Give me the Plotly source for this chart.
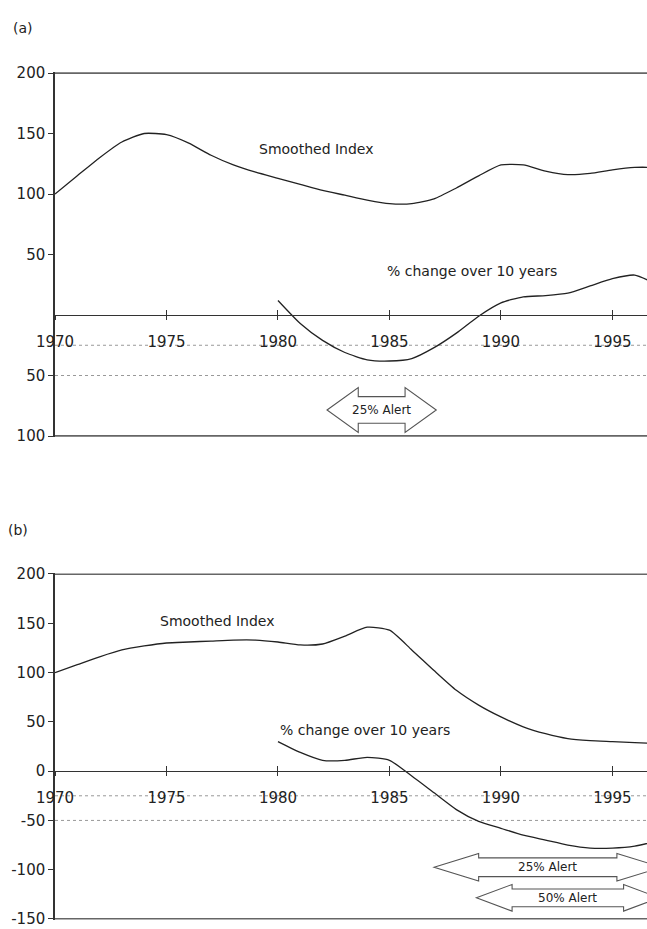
import plotly.graph_objects as go

# ---------------- data ----------------
years = list(range(1970, 1998))
pct_years = list(range(1980, 1998))

index_a = [100, 115, 130, 143, 150, 149, 142, 132, 124, 118,
           113, 108, 103, 99, 95, 92, 92, 96, 105, 115,
           124, 124, 119, 116, 117, 120, 122, 122]
pct_a = [12, -7, -21, -31, -37, -38, -36, -27, -15, -1,
         10, 15, 16, 18, 24, 30, 33, 25]

index_b = [100, 108, 116, 123, 127, 130, 131, 132, 133, 133,
           131, 128, 129, 137, 146, 143, 123, 102, 82, 67,
           55, 45, 38, 33, 31, 30, 29, 28]
pct_b = [30, 19, 11, 11, 14, 11, -5, -22, -39, -51,
         -58, -65, -70, -75, -78, -78, -76, -71]

x_ticks = [1970, 1975, 1980, 1985, 1990, 1995]
x_ticktext = ["1970", "1975", "1980", "1985", "1990", "1995"]

y_ticks_a = [200, 150, 100, 50, -50, -100]
y_ticktext_a = ["200", "150", "100", "50", "50", "100"]
y_ticks_b = [200, 150, 100, 50, 0, -50, -100, -150]
y_ticktext_b = ["200", "150", "100", "50", "0", "-50", "-100", "-150"]

threshold_levels = [-25, -50]

# alert periods (label, start year, end year)
alerts_a = [("25% Alert", 1982.2, 1987.1)]
alerts_b = [("25% Alert", 1987.0, 1997.2), ("50% Alert", 1988.9, 1997.1)]

# ---------------- style / geometry ----------------
W, H = 647, 929
LINE = "#222222"
AXC = "#333333"
FONT = "DejaVu Sans"
X_RANGE = [1970, 1996.55]
Y_RANGE_A = [-100, 200]
Y_RANGE_B = [-150, 200]
Y_PAD = 0.6  # small pad so end ticks are kept

def px_x(p):
    return p / W

def px_y(p):
    return 1 - p / H

x_dom = [px_x(55), 1.0]
y_dom_a = [px_y(436), px_y(73)]
y_dom_b = [px_y(919), px_y(574)]

def zero_pos(dom, rng):
    return dom[0] + (0 - rng[0]) / (rng[1] - rng[0]) * (dom[1] - dom[0])

# arrow geometry per alert: (y centre, half height tip, half height body, head length in years)
arrow_geom_a = [(-78.5, 18.5, 11, 1.4)]
arrow_geom_b = [(-97.5, 14, 9.5, 2.0), (-128.5, 13.5, 9, 1.6)]

fig = go.Figure()

def add_line(x, y, xa, ya):
    fig.add_trace(go.Scatter(x=x, y=y, mode="lines", xaxis=xa, yaxis=ya,
                             line=dict(color=LINE, width=1.3, shape="spline", smoothing=0.6),
                             showlegend=False, hoverinfo="skip"))

add_line(years, index_a, "x", "y")
add_line(pct_years, pct_a, "x", "y")
add_line(years, index_b, "x2", "y2")
add_line(pct_years, pct_b, "x2", "y2")

# dummy traces for overlay tick axes
fig.add_trace(go.Scatter(x=[None], y=[None], xaxis="x3", yaxis="y", showlegend=False, hoverinfo="skip"))
fig.add_trace(go.Scatter(x=[None], y=[None], xaxis="x4", yaxis="y2", showlegend=False, hoverinfo="skip"))

tickfont = dict(family=FONT, size=15, color="#222")

def xaxis_main(dom, pos):
    return dict(domain=dom, range=X_RANGE, anchor="free", position=pos,
                tickmode="array", tickvals=x_ticks, ticktext=x_ticktext,
                ticks="outside", ticklen=4, tickcolor=AXC, tickwidth=1.2,
                showline=True, linecolor=AXC, linewidth=1.3,
                showgrid=False, zeroline=False, tickfont=tickfont,
                ticklabelstandoff=9, automargin=False, fixedrange=True)

def xaxis_over(over, pos):
    return dict(domain=x_dom, range=X_RANGE, anchor="free", position=pos, overlaying=over,
                tickmode="array", tickvals=x_ticks, ticks="inside", ticklen=5,
                tickcolor=AXC, tickwidth=1.2, showticklabels=False, showline=False,
                showgrid=False, zeroline=False, automargin=False)

def yaxis(dom, rng, tv, tt, anchor):
    # pad range slightly, and stretch the domain by the same amount so scale is unchanged
    span = rng[1] - rng[0]
    dspan = dom[1] - dom[0]
    ext = Y_PAD / span * dspan
    return dict(domain=[dom[0] - ext, dom[1] + ext], range=[rng[0] - Y_PAD, rng[1] + Y_PAD],
                anchor=anchor, tickmode="array",
                tickvals=tv, ticktext=tt, ticks="outside", ticklen=5,
                tickcolor=AXC, tickwidth=1.2, showline=True, linecolor=AXC,
                linewidth=1.5, showgrid=False, zeroline=False, tickfont=tickfont,
                automargin=False, ticklabeloverflow="allow")

pos_a = zero_pos(y_dom_a, Y_RANGE_A)
pos_b = zero_pos(y_dom_b, Y_RANGE_B)

shapes = []
annotations = []

def frame_lines(yref, top, bottom):
    for v in (top, bottom):
        shapes.append(dict(type="line", xref="paper", x0=x_dom[0], x1=1, y0=v, y1=v, yref=yref,
                           line=dict(color=AXC, width=1.3)))
    for v in threshold_levels:
        shapes.append(dict(type="line", xref="paper", x0=x_dom[0], x1=1, y0=v, y1=v, yref=yref,
                           line=dict(color="#999", width=1, dash="dot"), layer="below"))

frame_lines("y", Y_RANGE_A[1], Y_RANGE_A[0])
frame_lines("y2", Y_RANGE_B[1], Y_RANGE_B[0])

def arrows(alerts, geoms, xref, yref):
    for (label, x0, x1), (yc, ht, hb, hl) in zip(alerts, geoms):
        path = (f"M {x0},{yc} L {x0+hl},{yc+ht} L {x0+hl},{yc+hb} L {x1-hl},{yc+hb} "
                f"L {x1-hl},{yc+ht} L {x1},{yc} L {x1-hl},{yc-ht} L {x1-hl},{yc-hb} "
                f"L {x0+hl},{yc-hb} L {x0+hl},{yc-ht} Z")
        shapes.append(dict(type="path", path=path, xref=xref, yref=yref,
                           fillcolor="white", line=dict(color="#555", width=1.1)))
        annotations.append(dict(text=label, x=(x0 + x1) / 2, y=yc, xref=xref, yref=yref,
                                showarrow=False, xanchor="center", yanchor="middle",
                                font=dict(family=FONT, size=12, color="#222")))

arrows(alerts_a, arrow_geom_a, "x", "y")
arrows(alerts_b, arrow_geom_b, "x2", "y2")

def label(text, x, y, xref, yref, size=14):
    annotations.append(dict(text=text, x=x, y=y, xref=xref, yref=yref, showarrow=False,
                            xanchor="left", yanchor="middle",
                            font=dict(family=FONT, size=size, color="#222")))

label("Smoothed Index", 1979.05, 137, "x", "y")
label("% change over 10 years", 1984.8, 36, "x", "y")
label("Smoothed Index", 1974.6, 152, "x2", "y2")
label("% change over 10 years", 1980.0, 42, "x2", "y2")

label("(a)", px_x(11), px_y(28), "paper", "paper", size=14)
label("(b)", px_x(6), px_y(530), "paper", "paper", size=14)

fig.update_layout(
    width=W, height=H, margin=dict(l=0, r=0, t=0, b=0),
    paper_bgcolor="white", plot_bgcolor="white", showlegend=False,
    xaxis=xaxis_main(x_dom, pos_a), yaxis=yaxis(y_dom_a, Y_RANGE_A, y_ticks_a, y_ticktext_a, "x"),
    xaxis2=xaxis_main(x_dom, pos_b), yaxis2=yaxis(y_dom_b, Y_RANGE_B, y_ticks_b, y_ticktext_b, "x2"),
    xaxis3=xaxis_over("x", pos_a), xaxis4=xaxis_over("x2", pos_b),
    shapes=shapes, annotations=annotations,
)

fig.write_html(
    "out.html",
    config={"displayModeBar": False},
    post_script="document.body.style.margin='0';document.body.style.overflow='hidden';",
)
